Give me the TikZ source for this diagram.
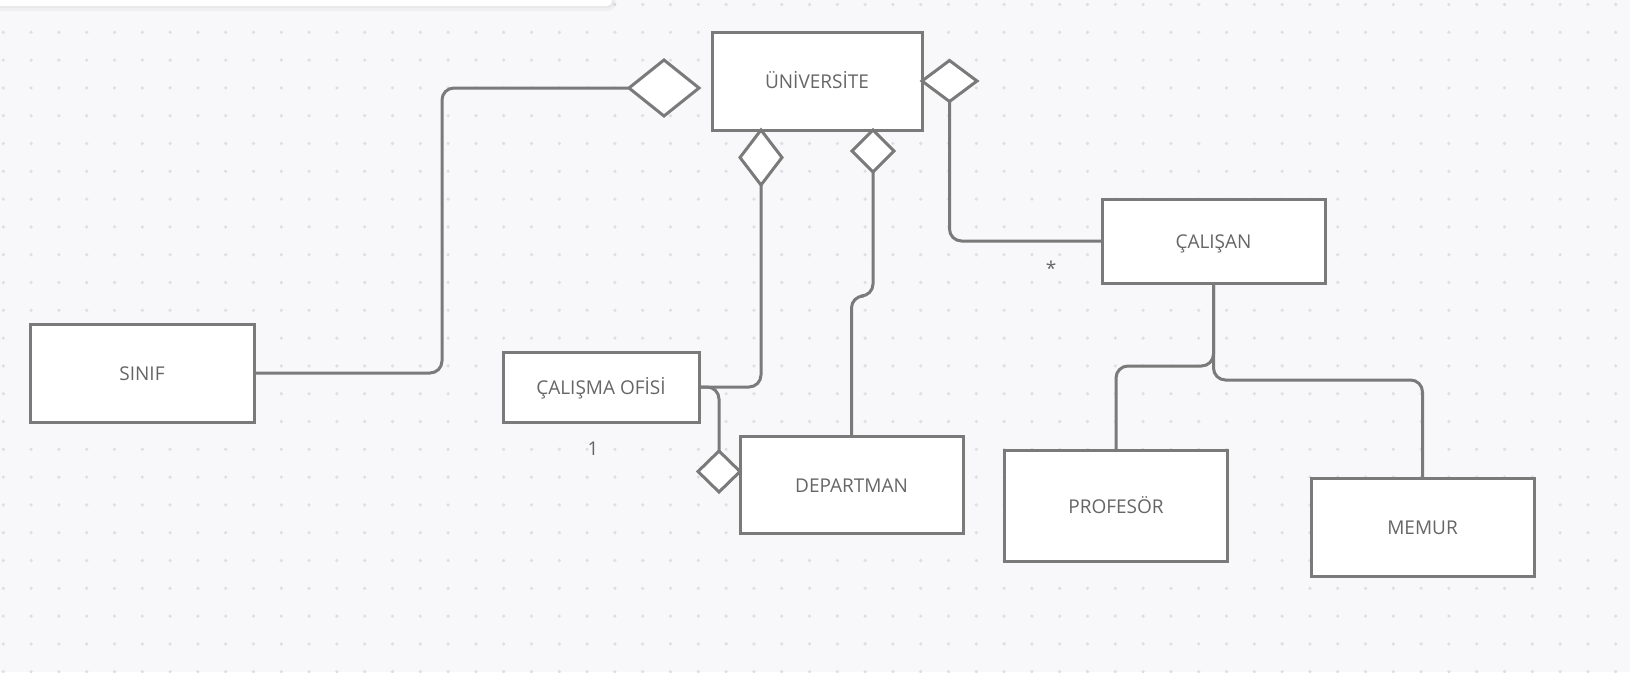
\documentclass[tikz,border=0pt]{standalone}
\usepackage{fontspec}
\setmainfont{Open Sans}
\usepackage{tikz}
\usetikzlibrary{positioning}
\usetikzlibrary{shapes.geometric}
\definecolor{linegray}{HTML}{7A7A7A}
\definecolor{textgray}{HTML}{666666}
\definecolor{canvas}{HTML}{F8F8FA}
\definecolor{dotgray}{HTML}{DEDFE3}

\begin{document}
\begin{tikzpicture}[x=1pt, y=-1pt, on grid,
                          classnode/.style={rectangle, draw=linegray, fill=white, line width=3pt, text=textgray, font=\fontsize{19}{21}\selectfont, text height=15.6pt, text depth=0pt, inner sep=0pt, outer sep=0pt},
                          aggnode/.style={diamond, draw=linegray, fill=white, line width=3pt, inner sep=0pt, outer sep=0pt},
                          multnode/.style={text=textgray, font=\fontsize{19}{21}\selectfont, inner sep=0pt},
                          link/.style={draw=linegray, line width=3pt, rounded corners=12pt},
                      ]
                      \useasboundingbox (0,0) rectangle (1630,672);
                      % Canvas
                      \fill[canvas] (0,0) rectangle (1630,672);
                      \foreach \i in {0,...,58}
                        \foreach \j in {0,...,24}
                          \fill[dotgray] (3.3+27.8*\i, 4.5+27.8*\j) circle (1.8pt);
                      \fill[black, opacity=0.03, rounded corners=8pt] (-10,-10) rectangle (616,11);
                      \fill[black, opacity=0.03, rounded corners=6pt] (-10,-10) rectangle (614,8);
                      \fill[white, rounded corners=5pt] (-10,-10) rectangle (612,6);

                      % Nodes
                      \node[classnode, minimum width=210pt, minimum height=98pt]  (univ)   at (817,81)                          {ÜNİVERSİTE};
                      \node[classnode, minimum width=224pt, minimum height=98pt]  (sinif)  [below left=292pt and 675pt of univ] {SINIF};
                      \node[classnode, minimum width=196pt, minimum height=70pt]  (ofis)   [below left=306pt and 216pt of univ] {ÇALIŞMA OFİSİ};
                      \node[classnode, minimum width=223pt, minimum height=97pt]  (dep)    [below right=403.5pt and 34.5pt of univ] {DEPARTMAN};
                      \node[classnode, minimum width=223pt, minimum height=84pt]  (cal)    [below right=160pt and 396.5pt of univ] {ÇALIŞAN};
                      \node[classnode, minimum width=223.5pt, minimum height=111pt] (prof) [below left=264.5pt and 97.5pt of cal] {PROFESÖR};
                      \node[classnode, minimum width=223pt, minimum height=98pt]  (mem)    [below right=286pt and 209pt of cal] {MEMUR};

                      \node[aggnode, minimum width=70pt, minimum height=56pt]     (diaL)   [below left=7pt and 153pt of univ]   {};
                      \node[aggnode, minimum width=55pt, minimum height=41pt]     (diaR)   [right=132.5pt of univ]              {};
                      \node[aggnode, minimum width=42pt, minimum height=55pt]     (diaU1)  [below left=76.5pt and 56pt of univ] {};
                      \node[aggnode, minimum width=42pt, minimum height=42pt]     (diaU2)  [below right=70pt and 56pt of univ] {};
                      \node[aggnode, minimum width=42pt, minimum height=41pt]     (diaD)   [above left=13pt and 132.5pt of dep] {};

                      \node[multnode]  (mult_one)  [below left=62pt and 8pt of ofis]      {1};
                      \node[multnode]  (mult_many) [below left=27pt and 162.5pt of cal]   {*};

                      %Lines
                      \draw[link] (sinif.east) -- ++(188,0) |- (diaL.west);
                      \draw[link] (ofis.east) -| (diaU1.south);
                      \draw[link] (ofis.east) -| (diaD.north);
                      \draw[link] (diaU2.south) -- ++(0,124) -| (dep.north);
                      \draw[link] (diaR.south) |- (cal.west);
                      \draw[link] (cal.south) -- ++(0,83) -| (prof.north);
                      \draw[link] (cal.south) -- ++(0,97) -| (mem.north);
                  \end{tikzpicture}
\end{document}
